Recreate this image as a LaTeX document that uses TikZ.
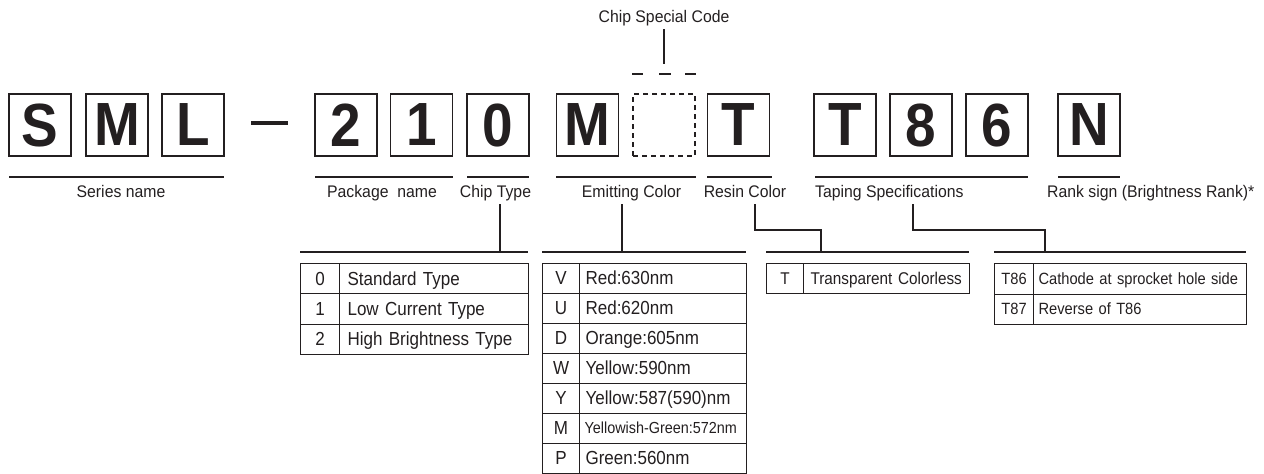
\documentclass[tikz,border=0pt]{standalone}
\usepackage{fontspec}
\setmainfont{Liberation Sans}
\newfontfamily\bigfont[FakeStretch=0.9]{Liberation Sans}
\newfontfamily\condfont[FakeStretch=0.9]{Liberation Sans}
\newfontfamily\labfont[FakeStretch=0.94]{Liberation Sans}
\definecolor{inkc}{RGB}{35,31,32}
\begin{document}
\begin{tikzpicture}[x=1pt,y=-1pt]
\tikzset{
  ln/.style={draw=inkc, line width=1.1pt},
  letter/.style={draw=inkc, line width=1.3pt, minimum width=62pt, minimum height=62pt, inner sep=0pt, text=inkc, font=\bigfont\bfseries\fontsize{61}{61}\selectfont},
  dletter/.style={letter, line width=1.1pt, dash pattern=on 5pt off 4pt},
  lab/.style={anchor=base, inner sep=0pt, text=inkc, font=\labfont\fontsize{16.8}{19}\selectfont},
  cell/.style={draw=inkc, line width=1.1pt, anchor=north west, inner ysep=0pt, text=inkc},
  kcell/.style={cell, inner xsep=0pt, align=center},
  vcell/.style={cell, align=left},
  fA/.style={font=\condfont\fontsize{18.9}{22}\selectfont, text height=13.4pt, text depth=0.8pt},
  fB/.style={font=\condfont\fontsize{17}{20}\selectfont, text height=12.2pt, text depth=0.8pt},
  fC/.style={font=\condfont\fontsize{16.3}{19}\selectfont, text height=11.7pt, text depth=0.8pt},
  fD/.style={font=\condfont\fontsize{16}{19}\selectfont, text height=11.5pt, text depth=0.8pt},
  ctk/.style={kcell, fA, minimum width=39pt, minimum height=30.3pt},
  ctv/.style={vcell, fA, text width=173pt, inner xsep=8pt, minimum height=30.3pt},
  eck/.style={kcell, fA, minimum width=37pt, minimum height=30pt},
  ecv/.style={vcell, fA, text width=155pt, inner xsep=6pt, minimum height=30pt},
  rck/.style={kcell, fB, minimum width=37pt, minimum height=30pt},
  rcv/.style={vcell, fB, text width=152pt, inner xsep=7pt, minimum height=30pt},
  tpk/.style={kcell, fC, minimum width=39pt, minimum height=30.5pt},
  tpv/.style={vcell, fC, text width=203pt, inner xsep=5pt, minimum height=30.5pt},
}
\useasboundingbox (0,0) rectangle (1264,474);

% ---- letter boxes ----
\node[letter] (bS)  at (40,125)   {S};
\node[letter] (bM)  at (117,125)  {M};
\node[letter] (bL)  at (193,125)  {L};
\coordinate (dashA) at (251,123);
\coordinate (dashB) at (288,123);
\draw[draw=inkc, line width=3.2pt] (dashA) -- (dashB);
\node[letter] (b2)  at (346,125)  {2};
\node[letter] (b1)  at (421.5,125) {1};
\node[letter] (b0)  at (498,125)  {0};
\node[letter] (bM2) at (587.5,125) {M};
\node[dletter] (bX) at (664,125)  {};
\node[letter] (bT)  at (738.5,125) {T};
\node[letter] (bT2) at (845,125)  {T};
\node[letter] (b8)  at (921,125)  {8};
\node[letter] (b6)  at (997,125)  {6};
\node[letter] (bN)  at (1089,125) {N};

% ---- chip special code ----
\node[lab] (csc) at (664,22) {Chip Special Code};
\coordinate (cscA) at (664,29);
\coordinate (cscB) at (664,64);
\draw[ln] (cscA) -- (cscB);
\coordinate (d1a) at (632,74); \coordinate (d1b) at (643,74);
\coordinate (d2a) at (659,74); \coordinate (d2b) at (671,74);
\coordinate (d3a) at (685,74); \coordinate (d3b) at (696,74);
\draw[ln] (d1a) -- (d1b);
\draw[ln] (d2a) -- (d2b);
\draw[ln] (d3a) -- (d3b);

% ---- label lines ----
\coordinate (sA) at (9,177);    \coordinate (sB) at (224,177);
\coordinate (pA) at (315,177);  \coordinate (pB) at (453,177);
\coordinate (cA) at (467,177);  \coordinate (cB) at (529,177);
\coordinate (eA) at (556,177);  \coordinate (eB) at (696,177);
\coordinate (rA) at (707,177);  \coordinate (rB) at (772,177);
\coordinate (tA) at (815,177);  \coordinate (tB) at (1028,177);
\coordinate (kA) at (1058,177); \coordinate (kB) at (1120,177);
\draw[ln] (sA) -- (sB);
\draw[ln] (pA) -- (pB);
\draw[ln] (cA) -- (cB);
\draw[ln] (eA) -- (eB);
\draw[ln] (rA) -- (rB);
\draw[ln] (tA) -- (tB);
\draw[ln] (kA) -- (kB);

% ---- labels ----
\node[lab] (lS) at (121,197) {Series name};
\node[lab] (lP) at (382,197) {Package\ \ name};
\node[lab] (lC) at (495.5,197) {Chip Type};
\node[lab] (lE) at (631.5,197) {Emitting Color};
\node[lab] (lR) at (745,197) {Resin Color};
\node[lab, anchor=base west] (lT) at (815,197) {Taping Specifications};
\node[lab, anchor=base west] (lK) at (1047,197) {Rank sign (Brightness Rank)*};

% ---- brackets / connectors ----
\coordinate (ctTop) at (500,204); \coordinate (ctBot) at (500,252);
\coordinate (ctL) at (300,252);   \coordinate (ctR) at (528,252);
\draw[ln] (ctL) -- (ctR);
\draw[ln] (ctTop) -- (ctBot);

\coordinate (ecTop) at (622,204); \coordinate (ecBot) at (622,252);
\coordinate (ecL) at (542,252);   \coordinate (ecR) at (746,252);
\draw[ln] (ecL) -- (ecR);
\draw[ln] (ecTop) -- (ecBot);

\coordinate (rcTop) at (755,204); \coordinate (rcBot) at (821,252);
\coordinate (rcL) at (766,252);   \coordinate (rcR) at (969,252);
\draw[ln] (rcL) -- (rcR);
\draw[ln] (rcTop) |- (821,230) -- (rcBot);

\coordinate (tpTop) at (913,204); \coordinate (tpBot) at (1045,252);
\coordinate (tpL) at (994,252);   \coordinate (tpR) at (1246,252);
\draw[ln] (tpL) -- (tpR);
\draw[ln] (tpTop) |- (1045,230) -- (tpBot);

% ---- chip type table ----
\node[ctk] (ct0k) at (300,263)   {0};
\node[ctv] (ct0v) at (339,263)   {Standard Type};
\node[ctk] (ct1k) at (300,293.3) {1};
\node[ctv] (ct1v) at (339,293.3) {Low Current Type};
\node[ctk] (ct2k) at (300,323.6) {2};
\node[ctv] (ct2v) at (339,323.6) {High Brightness Type};

% ---- emitting color table ----
\node[eck] (e1k) at (542,263) {V};
\node[ecv] (e1v) at (579,263) {Red:630nm};
\node[eck] (e2k) at (542,293) {U};
\node[ecv] (e2v) at (579,293) {Red:620nm};
\node[eck] (e3k) at (542,323) {D};
\node[ecv] (e3v) at (579,323) {Orange:605nm};
\node[eck] (e4k) at (542,353) {W};
\node[ecv] (e4v) at (579,353) {Yellow:590nm};
\node[eck] (e5k) at (542,383) {Y};
\node[ecv] (e5v) at (579,383) {Yellow:587(590)nm};
\node[eck] (e6k) at (542,413) {M};
\node[ecv, fD, inner xsep=5pt, text width=157pt] (e6v) at (579,413) {Yellowish-Green:572nm};
\node[eck] (e7k) at (542,443) {P};
\node[ecv] (e7v) at (579,443) {Green:560nm};

% ---- resin color table ----
\node[rck] (r1k) at (766,263) {T};
\node[rcv] (r1v) at (803,263) {Transparent Colorless};

% ---- taping table ----
\node[tpk] (t1k) at (994,263)   {T86};
\node[tpv] (t1v) at (1033,263)  {Cathode at sprocket hole side};
\node[tpk] (t2k) at (994,293.5) {T87};
\node[tpv] (t2v) at (1033,293.5) {Reverse of T86};
\end{tikzpicture}
\end{document}
